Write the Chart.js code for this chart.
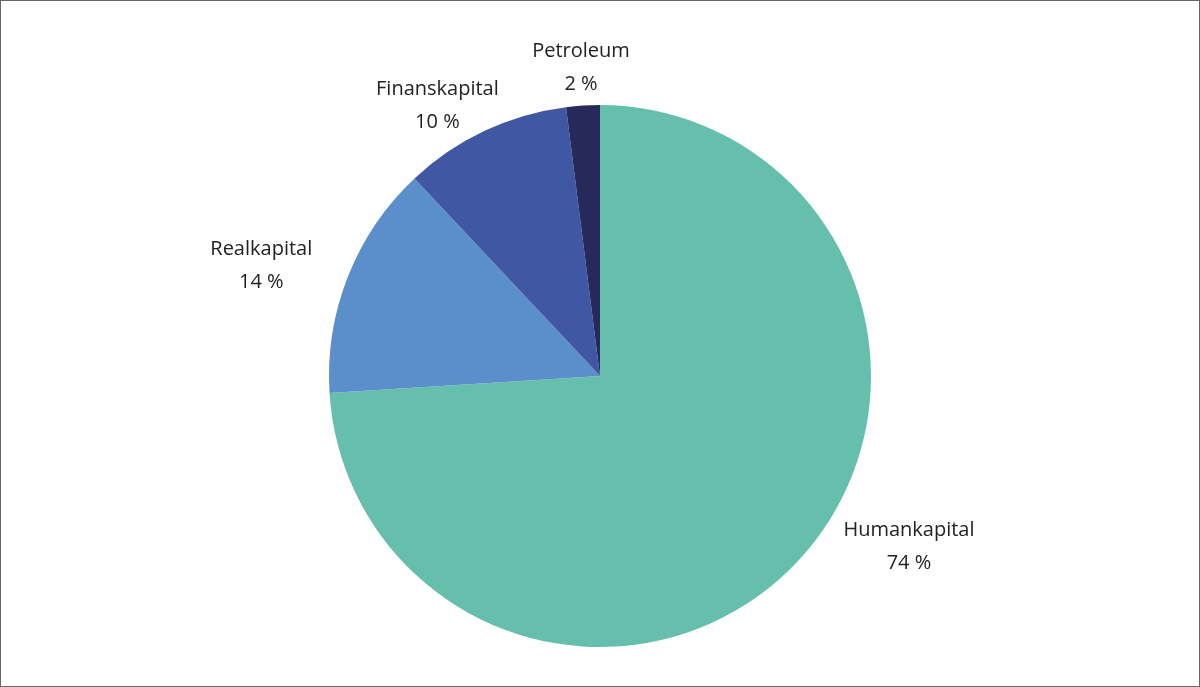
<!DOCTYPE html>
<html><head><meta charset="utf-8">
<script src="https://cdn.jsdelivr.net/npm/chart.js@4"></script>
<style>html,body{margin:0;padding:0;background:#fff}
#w{width:1198px;height:685px;border:1px solid #666;position:relative}</style>
</head><body><div id="w"><canvas id="c"></canvas></div>
<script>
const categories=["Humankapital","Realkapital","Finanskapital","Petroleum"];
const values=[74,14,10,2];
const colors=["#66bfad","#5b8fcb","#4057a3","#26295a"];
// label anchor offsets (relative to pie centre, in radii)
const labelOffsets=[[1.14,0.63],[-1.25,-0.41],[-0.6,-1.0],[-0.07,-1.14]];
const labelPlugin={id:'lbl',afterDatasetsDraw(chart){
  const ctx=chart.ctx;const arc=chart.getDatasetMeta(0).data[0];
  const cx=arc.x,cy=arc.y,r=arc.outerRadius;
  ctx.save();ctx.fillStyle="#222";ctx.font="20px 'Open Sans'";ctx.textAlign="center";ctx.textBaseline="middle";
  categories.forEach((c,i)=>{const x=cx+labelOffsets[i][0]*r,y=cy+labelOffsets[i][1]*r;
    ctx.fillText(c,x,y-16);ctx.fillText(values[i]+" %",x,y+17);});
  ctx.restore();}};
new Chart(document.getElementById('c'),{type:'pie',
 data:{labels:categories,datasets:[{data:values,backgroundColor:colors,borderWidth:0}]},
 options:{responsive:true,maintainAspectRatio:false,animation:false,
  layout:{padding:{top:104,bottom:39}},
  plugins:{legend:{display:false},tooltip:{enabled:false}}},
 plugins:[labelPlugin]});
</script></body></html>
